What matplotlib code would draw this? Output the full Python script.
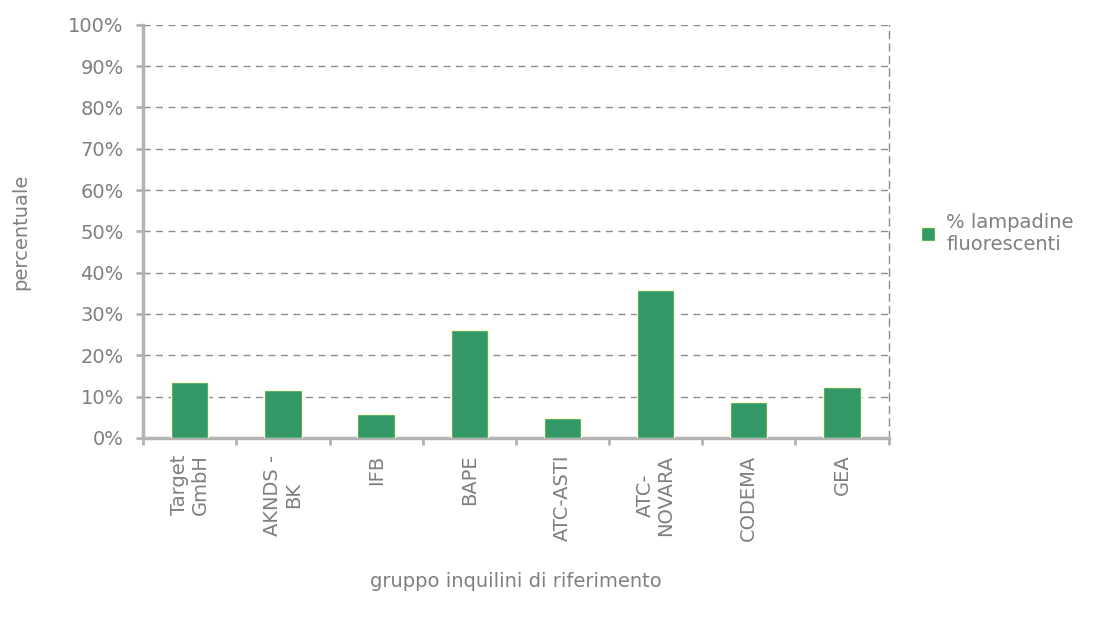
import matplotlib
matplotlib.use("Agg")
from matplotlib import pyplot as plt
import numpy as np

categories = ["Target\nGmbH", "AKNDS -\nBK", "IFB", "BAPE", "ATC-ASTI", "ATC-\nNOVARA", "CODEMA", "GEA"]
values = [13.6, 11.6, 5.8, 26.1, 4.8, 35.8, 8.6, 12.3]
yticks = [0, 10, 20, 30, 40, 50, 60, 70, 80, 90, 100]
series_name = "% lampadine\nfluorescenti"

txt = "#7f7f7f"
axc = "#b3b3b3"
green = "#339966"
fs = 14

plt.rcParams["font.family"] = ["DejaVu Sans"]

fig = plt.figure(figsize=(10.93, 6.21), dpi=100)
ax = fig.add_axes([0.131, 0.295, 0.682, 0.665])

x = np.arange(len(categories))
ax.bar(x, values, width=0.4, color=green, edgecolor="#ffffcc", linewidth=1, label=series_name, zorder=3)

ax.set_xlim(-0.5, len(categories) - 0.5)
ax.set_ylim(0, 100)
ax.set_yticks(yticks)
ax.set_yticklabels([f"{v}%" for v in yticks], fontsize=fs, color=txt)
ax.yaxis.grid(True, linestyle=(0, (5, 4)), color="#8c8c8c", linewidth=1, zorder=0)

ax.set_xticks(x)
ax.set_xticklabels(categories, rotation=90, fontsize=fs, color=txt, ha="center", va="top",
                   multialignment="center", linespacing=1.1)
ax.set_xticks(np.arange(-0.5, len(categories)), minor=True)
ax.tick_params(axis="x", which="major", length=0, pad=12)
ax.tick_params(axis="x", which="minor", length=5, width=2, color=axc)
ax.tick_params(axis="y", length=5, width=2, color=axc, pad=9)

for s in ["left", "bottom"]:
    ax.spines[s].set_color(axc)
    ax.spines[s].set_linewidth(2.5)
ax.spines["top"].set_visible(False)
ax.spines["right"].set_color("#8c8c8c")
ax.spines["right"].set_linestyle((0, (5, 4)))
ax.spines["right"].set_linewidth(1)

ax.set_ylabel("percentuale", fontsize=fs, color=txt, labelpad=27)
ax.set_xlabel("gruppo inquilini di riferimento", fontsize=fs, color=txt, labelpad=22)

leg = ax.legend(loc="center left", bbox_to_anchor=(1.02, 0.495), frameon=False, fontsize=fs,
                handlelength=0.7, handleheight=0.7, handletextpad=0.6, labelcolor=txt)

fig.savefig("out.png", dpi=100)
